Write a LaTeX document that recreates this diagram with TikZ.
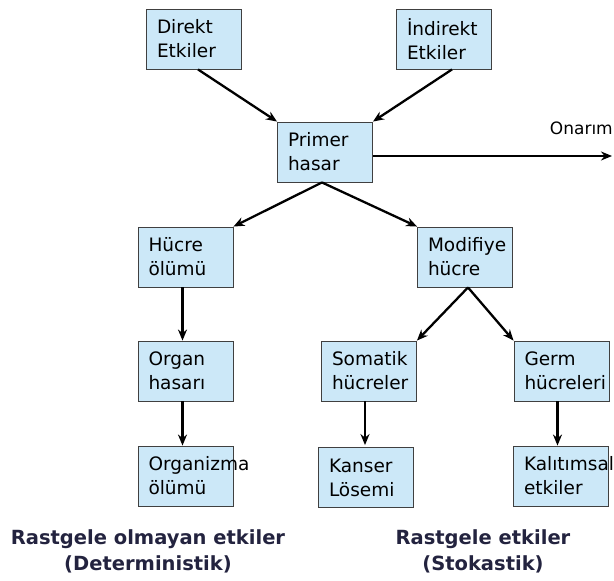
\documentclass[tikz,border=0pt]{standalone}
\usepackage{fontspec}
\setmainfont{DejaVu Sans}
\usetikzlibrary{arrows.meta}
\definecolor{boxblue}{HTML}{CCE8F8}
\definecolor{navy}{HTML}{23233F}
\begin{document}
\begin{tikzpicture}[x=1pt,y=-1pt,
  box/.style={draw=black!75, line width=0.9pt, fill=boxblue, minimum width=95pt, minimum height=60pt,
    text width=74pt, inner xsep=10.5pt, inner ysep=0pt, align=left,
    font=\fontsize{18.5}{24}\selectfont},
  arr/.style={line width=2.3pt, -{Stealth[length=11pt,width=9pt]}},
  lbl/.style={align=center, text=navy, font=\bfseries\fontsize{19.5}{26}\selectfont}]
\useasboundingbox (0,0) rectangle (614,581);
\node[box] (dir) at (194,39) {Direkt\\Etkiler};
\node[box] (ind) at (444,39) {İndirekt\\Etkiler};
\node[box] (pri) at (325,152) {Primer\\hasar};
\node[box] (huc) at (185.5,257) {Hücre\\ölümü};
\node[box] (mod) at (465,257) {Modifiye\\hücre};
\node[box] (org) at (185.5,371) {Organ\\hasarı};
\node[box] (som) at (369,371) {Somatik\\hücreler};
\node[box] (germ) at (561.5,371) {Germ\\hücreleri};
\node[box] (orgz) at (185.5,476) {Organizma\\ölümü};
\node[box] (kan) at (366,477.5) {Kanser\\Lösemi};
\node[box] (kal) at (561,476) {Kalıtımsal\\etkiler};
\node[anchor=base east, inner sep=0pt, font=\fontsize{17}{19}\selectfont] (onl) at (613,134) {Onarım};
\coordinate (onr) at (612,156);
\node[lbl] (det) at (148,551) {Rastgele olmayan etkiler\\(Deterministik)};
\node[lbl] (sto) at (483,551) {Rastgele etkiler\\(Stokastik)};
\draw[arr] ([xshift=4pt]dir.south) -- (pri.north west);
\draw[arr] ([xshift=8pt]ind.south) -- (pri.north east);
\draw[arr] ([yshift=-4pt]pri.east) -- (onr);
\draw[arr] ([xshift=-3pt]pri.south) -- (huc.north east);
\draw[arr] ([xshift=-3pt]pri.south) -- (mod.north west);
\draw[arr] ([xshift=-3pt]huc.south) -- ([xshift=-3pt]org.north);
\draw[arr] ([xshift=3pt]mod.south) -- (som.north east);
\draw[arr] ([xshift=3pt]mod.south) -- (germ.north west);
\draw[arr] ([xshift=-3pt]org.south) -- ([xshift=-3pt]orgz.north);
\draw[arr] ([xshift=-4pt]som.south) -- ([xshift=-4pt,yshift=2pt]som.south |- kan.north);
\draw[arr] ([xshift=-4pt]germ.south) -- ([xshift=-4pt]germ.south |- kal.north);
\end{tikzpicture}
\end{document}
